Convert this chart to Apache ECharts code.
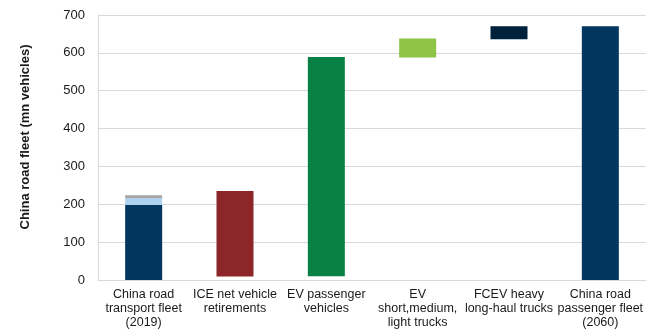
<!DOCTYPE html>
<html>
<head>
<meta charset="utf-8">
<script src="https://cdn.jsdelivr.net/npm/echarts@6/dist/echarts.min.js"></script>
<style>html,body{margin:0;padding:0;background:#fff;}#c{width:652px;height:331px;}</style>
</head>
<body>
<div id="c"></div>
<script>
const categories = ['China road\ntransport fleet\n(2019)', 'ICE net vehicle\nretirements', 'EV passenger\nvehicles', 'EV\nshort,medium,\nlight trucks', 'FCEV heavy\nlong-haul trucks', 'China road\npassenger fleet\n(2060)'];
// 2019 fleet stacked segments (mn vehicles)
const fleet2019Segments = [198, 18, 8];
const fleet2019Colors = ['#00365f', '#acd2f1', '#a5a5a5'];
// floating bars: low and high values
const floatLow  = [null, 9, 10, 588, 636, 0];
const floatHigh = [null, 235, 589, 638, 670, 670];
const floatColors = [null, '#8c2628', '#0a8144', '#8dc447', '#00213c', '#00365f'];
const yTicks = [0, 100, 200, 300, 400, 500, 600, 700];

const baseData = floatLow.map(v => v === null ? '-' : v);
const changeData = floatLow.map((v, i) => v === null ? '-' : {value: floatHigh[i] - v, itemStyle: {color: floatColors[i]}});
const segSeries = fleet2019Segments.map((v, k) => ({
  type: 'bar', stack: 'total', barWidth: 37,
  data: categories.map((c, i) => i === 0 ? v : '-'),
  itemStyle: {color: fleet2019Colors[k]}
}));

const chart = echarts.init(document.getElementById('c'), null, {renderer: 'canvas'});
chart.setOption({
  animation: false,
  grid: {left: 98, right: 6, top: 15, bottom: 51},
  xAxis: {
    type: 'category', data: categories,
    axisLine: {lineStyle: {color: '#d9d9d9', width: 1}},
    axisTick: {show: false},
    axisLabel: {color: '#1a1a1a', fontFamily: 'Liberation Sans, Arial', fontSize: 12.5, lineHeight: 14, margin: 8, interval: 0}
  },
  yAxis: {
    type: 'value', min: yTicks[0], max: yTicks[yTicks.length - 1], interval: 100,
    axisLine: {show: true, lineStyle: {color: '#d9d9d9'}},
    axisTick: {show: false},
    splitLine: {lineStyle: {color: '#d9d9d9', width: 1}},
    axisLabel: {color: '#1a1a1a', fontFamily: 'Liberation Sans, Arial', fontSize: 13, margin: 13}
  },
  graphic: [{
    type: 'text', x: 25, y: 137, rotation: Math.PI / 2,
    style: {text: 'China road fleet (mn vehicles)', fill: '#1a1a1a', font: 'bold 13px "Liberation Sans", Arial', textAlign: 'center', textVerticalAlign: 'middle'}
  }],
  series: [
    {type: 'bar', stack: 'total', barWidth: 37, data: baseData, itemStyle: {color: 'rgba(0,0,0,0)'}, silent: true},
    ...segSeries,
    {type: 'bar', stack: 'total', barWidth: 37, data: changeData}
  ]
});
</script>
</body>
</html>
